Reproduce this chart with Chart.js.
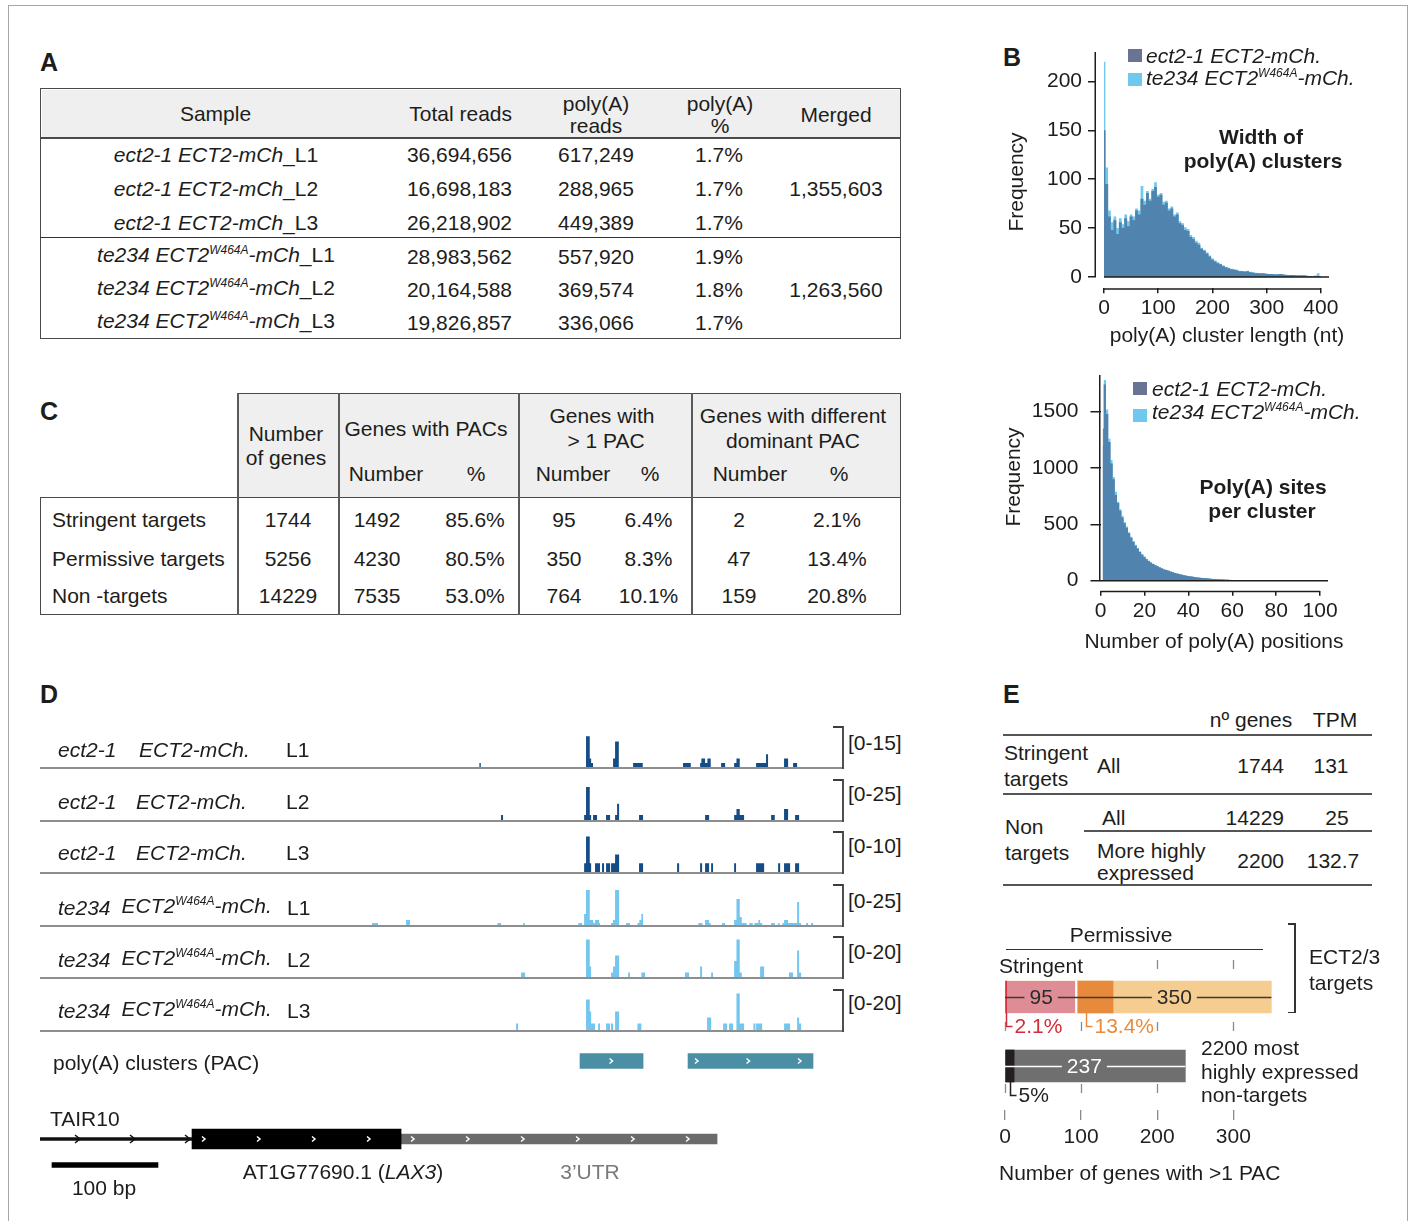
<!DOCTYPE html>
<html lang="en">
<head>
<meta charset="utf-8">
<title>Poly(A) site usage in ECT2 lines</title>
<script src="https://cdn.jsdelivr.net/npm/chart.js"></script>
<style>
  html, body { margin: 0; padding: 0; background: #fff; }
  body { position: relative; width: 1410px; height: 1221px; overflow: hidden;
         font-family: 'Liberation Sans', Arial, Helvetica, sans-serif; color: #1d1d1b; }
  .t { position: absolute; white-space: nowrap; font-size: 21px; line-height: 21px; }
  .b { font-weight: bold; }
  .i { font-style: italic; }
  .w { background: #fff; }
  .sup { font-size: 12px; position: relative; top: -8px; }
  .panel { font-weight: bold; font-size: 25px; line-height: 25px; }
  .ln { position: absolute; background: #4a4a4a; }
  canvas { position: absolute; }
</style>
</head>
<body>
<div style="position:absolute;left:8px;top:5px;width:1400px;height:1300px;border:1px solid #a6a6a6;box-sizing:border-box;"></div>
<script>
// ---------------- A: sequencing libraries ----------------
const libReplicates = ['L1', 'L2', 'L3', 'L1', 'L2', 'L3'];
const totalReads = [36694656, 16698183, 26218902, 28983562, 20164588, 19826857];
const polyAReads = [617249, 288965, 449389, 557920, 369574, 336066];
const polyAPercent = [1.7, 1.7, 1.7, 1.9, 1.8, 1.7];
const mergedReads = [1355603, 1263560];

// ---------------- C: PAC usage per gene set ----------------
const geneSets = ['Stringent targets', 'Permissive targets', 'Non -targets'];
const nGenes = [1744, 5256, 14229];
const genesWithPAC = [1492, 4230, 7535];
const genesWithPACPct = [85.6, 80.5, 53.0];
const genesMultiPAC = [95, 350, 764];
const genesMultiPACPct = [6.4, 8.3, 10.1];
const genesDiffDominant = [2, 47, 159];
const genesDiffDominantPct = [2.1, 13.4, 20.8];

// ---------------- B: cluster width / sites per cluster ----------------
const widthBinNt = 5;
const widthXTicks = [0, 100, 200, 300, 400];
const widthYTicks = [0, 50, 100, 150, 200];
const widthEct2 = [150, 95, 62, 48, 58, 44, 56, 50, 60, 52,
  62, 58, 68, 64, 80, 74, 86, 78, 88, 92,
  82, 84, 74, 76, 68, 70, 62, 64, 55, 53,
  48, 47, 41, 39, 35, 33, 29, 27, 24, 21,
  18, 16, 14, 13, 11, 10, 9, 8, 7.5, 7,
  6, 6, 5.5, 6, 5, 4.5, 4, 4, 3.5, 3.5,
  3, 3, 3, 2.5, 2.5, 3, 2.5, 2, 2, 2,
  2, 1.5, 1.5, 1.5, 1.5, 1, 1, 1, 1, 1,
  1];
const widthTe234 = [220, 112, 68, 56, 62, 50, 60, 54, 64, 57,
  64, 62, 70, 68, 93, 78, 88, 80, 90, 97,
  84, 86, 77, 78, 70, 72, 64, 66, 57, 55,
  51, 49, 43, 41, 37, 35, 30, 28, 25, 22,
  19, 17, 15, 13.5, 12, 10.5, 9.5, 8.5, 8, 7.5,
  6.5, 6, 6, 6.5, 5.5, 5, 4.5, 4, 4, 3.5,
  3.5, 3, 3, 3, 2.5, 3, 2.5, 2.5, 2, 2,
  2, 2, 1.5, 1.5, 1.5, 1.5, 1, 1, 1.5, 4,
  1];
const posXTicks = [0, 20, 40, 60, 80, 100];
const posYTicks = [0, 500, 1000, 1500];
const posEct2 = [1350, 1740, 1480, 1230, 1040, 900, 760, 690, 620, 560,
  510, 470, 420, 380, 345, 310, 285, 255, 230, 210,
  190, 175, 160, 148, 138, 128, 118, 108, 100, 94,
  88, 80, 74, 68, 62, 57, 52, 48, 44, 41,
  38, 35, 32, 29, 27, 25, 23, 21, 19, 17,
  16, 15, 13, 12, 11, 10, 9, 8, 7, 6.5,
  6, 5.5, 5, 5, 4.5, 4, 4, 3.5, 3.5, 3,
  3, 3, 2.5, 2.5, 2.5, 2, 2, 2, 2, 1.5,
  1.5, 1.5, 1.5, 1.5, 1, 1, 1, 1, 1, 1,
  1, 1, 1, 0.5, 0.5, 0.5, 0.5, 0.5, 0.5, 0.5];
const posTe234 = [1200, 1780, 1520, 1260, 1070, 920, 790, 700, 635, 575,
  520, 480, 430, 390, 350, 318, 290, 262, 236, 214,
  194, 178, 163, 150, 140, 130, 120, 110, 102, 95,
  89, 81, 75, 69, 63, 58, 53, 49, 45, 42,
  39, 36, 33, 30, 28, 26, 24, 22, 20, 18,
  16.5, 15, 14, 12.5, 11.5, 10.5, 9.5, 8.5, 7.5, 7,
  6.5, 6, 5.5, 5, 5, 4.5, 4, 4, 3.5, 3.5,
  3, 3, 3, 2.5, 2.5, 2.5, 2, 2, 2, 2,
  1.5, 1.5, 1.5, 1.5, 1.5, 1, 1, 1, 1, 1,
  1, 1, 1, 1, 0.5, 0.5, 0.5, 0.5, 0.5, 0.5];

// ---------------- D: coverage at AT1G77690 (bp from window start) ----------------
const trackSpanBp = 757.5;
const trackRanges = [15, 25, 10, 25, 20, 20];
const covEct2L1 = [[414.5, 415.8, 1.5],
  [515.1, 518.6, 11.5], [518.6, 519.9, 3.2], [519.9, 521.7, 1.5],
  [540.6, 542.5, 3.2], [542.5, 546.0, 9.6],
  [559.5, 568.6, 1.5], [606.6, 613.9, 1.5],
  [622.7, 623.9, 1.5], [623.9, 627.4, 3.2], [627.4, 629.6, 1.5], [629.6, 632.7, 3.2],
  [642.5, 646.3, 1.5], [654.8, 657.0, 1.5], [657.0, 660.1, 3.2],
  [675.5, 684.9, 1.5], [684.9, 686.8, 4.8], [701.9, 705.7, 3.2], [710.4, 714.2, 1.5]];
const covEct2L2 = [[434.9, 436.8, 3.1],
  [513.3, 515.1, 3.1], [515.1, 518.6, 20.6], [518.6, 519.9, 3.1],
  [521.7, 525.5, 3.1], [534.0, 537.8, 3.1],
  [542.5, 544.4, 3.1], [544.4, 546.3, 10.2], [565.1, 568.9, 3.1], [627.4, 631.2, 3.1],
  [654.8, 657.0, 3.1], [657.0, 660.1, 6.9], [660.1, 664.2, 3.1],
  [689.7, 693.1, 3.1], [701.9, 705.7, 6.9], [712.3, 716.1, 3.1]];
const covEct2L3 = [[513.3, 515.1, 2.2], [515.1, 518.6, 8.9], [518.6, 519.9, 2.2],
  [523.6, 528.3, 2.2], [530.2, 532.1, 2.2], [534.0, 537.8, 2.2],
  [538.7, 542.5, 2.2], [542.5, 546.3, 4.4], [565.1, 568.9, 2.2], [601.0, 602.9, 2.2],
  [622.7, 624.6, 2.2], [627.4, 631.2, 2.2], [633.1, 634.9, 2.2], [654.8, 656.6, 2.2],
  [675.5, 683.1, 2.2], [696.3, 698.2, 2.2], [701.9, 707.6, 2.2], [712.3, 716.1, 2.2]];
const covTe234L1 = [[313.2, 318.9, 1.2], [345.3, 349.1, 3.1], [431.5, 434.9, 1.2],
  [455.7, 457.3, 1.2], [507.9, 511.4, 1.2],
  [513.3, 515.1, 6.9], [515.1, 518.6, 21.9], [518.6, 522.0, 3.1], [522.0, 523.6, 1.2],
  [523.6, 527.4, 3.1], [527.4, 528.3, 1.2],
  [538.7, 540.6, 1.2], [540.6, 542.5, 3.1], [542.5, 546.3, 21.9], [552.9, 556.6, 1.2],
  [563.6, 565.4, 1.2], [565.4, 567.3, 3.1], [567.3, 568.9, 6.9],
  [621.1, 624.9, 1.2], [627.4, 631.2, 3.1], [631.2, 632.7, 1.2], [643.4, 646.3, 1.2],
  [654.8, 657.0, 3.1], [657.0, 660.1, 16.2], [660.1, 662.0, 5.0], [662.0, 666.7, 1.2],
  [669.2, 672.4, 1.2], [673.9, 677.7, 1.2], [677.7, 679.3, 3.1], [679.3, 681.2, 1.2],
  [689.7, 693.1, 1.2], [696.3, 697.8, 1.2],
  [700.4, 701.9, 1.2], [701.9, 705.7, 3.1], [705.7, 714.2, 1.2], [714.2, 716.1, 14.4], [716.1, 718.0, 1.2],
  [722.7, 724.6, 1.2], [727.4, 729.3, 1.2]];
const covTe234L2 = [[453.8, 457.6, 2.3],
  [515.1, 518.6, 18.8], [518.6, 519.9, 5.3],
  [538.7, 540.6, 2.3], [540.6, 542.5, 5.3], [542.5, 546.3, 10.8],
  [554.8, 556.6, 2.3], [567.3, 570.8, 2.3], [608.5, 612.3, 2.3], [622.7, 624.6, 5.3],
  [633.1, 634.9, 2.3], [654.8, 657.0, 8.0], [657.0, 660.1, 18.8], [660.1, 662.0, 2.3],
  [679.3, 683.1, 5.3], [706.6, 710.4, 2.3], [714.2, 716.1, 13.3], [716.1, 718.0, 2.3]];
const covTe234L3 = [[449.1, 451.0, 3.2],
  [515.1, 518.6, 15.2], [518.6, 519.9, 9.2], [519.9, 523.6, 3.2],
  [526.5, 528.3, 3.2], [534.0, 537.8, 3.2], [538.7, 540.6, 3.2], [542.5, 546.3, 9.2],
  [563.6, 567.3, 3.2], [629.3, 633.1, 6.2], [644.4, 648.2, 3.2], [650.0, 653.8, 3.2],
  [657.0, 660.1, 18.2], [660.1, 664.2, 3.2], [673.0, 674.9, 3.2], [675.5, 681.2, 3.2],
  [701.9, 707.6, 3.2], [714.2, 716.1, 6.2], [716.1, 718.0, 3.2]];
const pacClusters = [[509.4, 568.9], [611.3, 729.2]];
const geneUpstream = [0, 143.4];
const geneCDS = [143.4, 340.6];
const geneUTR = [340.6, 638.7];
const scaleBarStart = 11.3;
const scaleBarBp = 100;

// ---------------- E: expression-matched comparison ----------------
const eTableGenes = [1744, 14229, 2200];
const eTableTPM = ['131', '25', '132.7'];
const multiPacStringent = 95, diffStringent = 2;
const multiPacPermissive = 350, diffPermissive = 47;
const multiPacHighNonTargets = 237, diffHighNonTargets = 12;
const eXTicks = [0, 100, 200, 300];

// ---------------- colours ----------------
const COL = {
  ect2: '#6b7394', te234: '#6fc9ef', overlap: '#5083ad',
  trackEct2: '#134c86', trackTe234: '#73c6ee', pac: '#4a8fa3', utr: '#6b6b6b',
  pink: '#de8d96', red: '#d3202f', orangeDark: '#e88a3c', orangeLight: '#f6cd90',
  grey: '#6f6f70', black: '#231f20', ink: '#1d1d1b'
};

// ---------------- helpers ----------------
function T(x, y, html, align, cls, style) {
  const d = document.createElement('div');
  d.className = 't' + (cls ? ' ' + cls : '');
  d.innerHTML = html;
  d.style.left = x + 'px';
  d.style.top = y + 'px';
  const tx = align === 'c' ? '-50%' : align === 'r' ? '-100%' : '0';
  d.style.transform = 'translate(' + tx + ',-50%)';
  if (style) d.style.cssText += style;
  document.body.appendChild(d);
  return d;
}
function L(x, y, w, h, color) {
  const d = document.createElement('div');
  d.className = 'ln';
  d.style.cssText += 'left:' + x + 'px;top:' + y + 'px;width:' + w + 'px;height:' + h + 'px;' + (color ? 'background:' + color + ';' : '');
  document.body.appendChild(d);
}
function B(x, y, w, h, style) {
  const d = document.createElement('div');
  d.style.cssText = 'position:absolute;box-sizing:border-box;left:' + x + 'px;top:' + y + 'px;width:' + w + 'px;height:' + h + 'px;' + style;
  document.body.appendChild(d);
}
function makeCanvas(x, y, w, h) {
  const c = document.createElement('canvas');
  c.width = w; c.height = h;
  c.style.left = x + 'px'; c.style.top = y + 'px';
  c.style.width = w + 'px'; c.style.height = h + 'px';
  document.body.appendChild(c);
  return c;
}
const fmt = n => n.toLocaleString('en-US');
const pct = v => v.toFixed(1) + '%';
const ectName = '<span class="i">ect2-1 ECT2-mCh</span>';
const teName = '<span class="i">te234 ECT2<span class="sup">W464A</span>-mCh</span>';

Chart.defaults.font.family = "'Liberation Sans', Arial, sans-serif";
Chart.defaults.font.size = 21;
Chart.defaults.color = COL.ink;

// ---------------- panel letters ----------------
T(40, 62, 'A', 'l', 'panel');
T(1003, 57, 'B', 'l', 'panel');
T(40, 411, 'C', 'l', 'panel');
T(40, 694, 'D', 'l', 'panel');
T(1003, 694, 'E', 'l', 'panel');

// ---------------- table A ----------------
B(40, 88, 861, 251, 'border:1.5px solid #4a4a4a;');
B(41.5, 89.5, 858, 48, 'background:#efefef;');
L(40, 137, 861, 1.5);
L(40, 237, 861, 1.2, '#333');
T(215.5, 113, 'Sample', 'c');
T(512, 113, 'Total reads', 'r');
T(596, 103, 'poly(A)', 'c'); T(596, 125, 'reads', 'c');
T(720, 103, 'poly(A)', 'c'); T(720, 125, '%', 'c');
T(836, 114, 'Merged', 'c');
const rowYA = [154, 188, 221.5, 255.5, 288.5, 322];
rowYA.forEach((y, i) => {
  T(216, y, (i < 3 ? ectName : teName) + '_' + libReplicates[i], 'c');
  T(512, y, fmt(totalReads[i]), 'r');
  T(596, y, fmt(polyAReads[i]), 'c');
  T(719, y, pct(polyAPercent[i]), 'c');
});
T(836, rowYA[1], fmt(mergedReads[0]), 'c');
T(836, rowYA[4], fmt(mergedReads[1]), 'c');

// ---------------- table C ----------------
B(237, 393, 664, 105, 'background:#efefef;border-top:1.5px solid #4a4a4a;border-right:1.5px solid #4a4a4a;');
B(40, 497, 861, 118, 'border:1.5px solid #4a4a4a;');
[237, 338, 518, 691].forEach(x => L(x, 393, 1.5, 222, '#5a5a5a'));
T(286, 433, 'Number', 'c'); T(286, 457, 'of genes', 'c');
T(426, 428, 'Genes with PACs', 'c');
T(386, 473, 'Number', 'c'); T(476, 473, '%', 'c');
T(602, 415, 'Genes with', 'c'); T(606, 440, '&gt; 1 PAC', 'c');
T(573, 473, 'Number', 'c'); T(650, 473, '%', 'c');
T(793, 415, 'Genes with different', 'c'); T(793, 440, 'dominant PAC', 'c');
T(750, 473, 'Number', 'c'); T(839, 473, '%', 'c');
[519, 557.5, 595].forEach((y, i) => {
  T(52, y, geneSets[i], 'l');
  T(288, y, String(nGenes[i]), 'c');
  T(377, y, String(genesWithPAC[i]), 'c');
  T(475, y, pct(genesWithPACPct[i]), 'c');
  T(564, y, String(genesMultiPAC[i]), 'c');
  T(648.5, y, pct(genesMultiPACPct[i]), 'c');
  T(739, y, String(genesDiffDominant[i]), 'c');
  T(837, y, pct(genesDiffDominantPct[i]), 'c');
});

// ---------------- B: histograms ----------------
const histAxes = {
  id: 'histAxes',
  afterDatasetsDraw(chart) {
    const { ctx, chartArea: ca, scales: { x, y } } = chart;
    const xt = chart.options.xTickValues;
    ctx.save();
    ctx.strokeStyle = COL.ink;
    ctx.lineWidth = 1.5;
    ctx.beginPath();
    ctx.moveTo(x.getPixelForValue(0), y.getPixelForValue(0));
    ctx.lineTo(ca.right, y.getPixelForValue(0));
    ctx.stroke();
    ctx.beginPath();
    ctx.moveTo(x.getPixelForValue(xt[0]), ca.bottom + 0.75);
    ctx.lineTo(x.getPixelForValue(xt[xt.length - 1]), ca.bottom + 0.75);
    ctx.stroke();
    ctx.beginPath();
    ctx.moveTo(ca.left - 0.75, y.getPixelForValue(0));
    ctx.lineTo(ca.left - 0.75, ca.top);
    ctx.stroke();
    ctx.restore();
  }
};

function histogram(canvas, cfg) {
  const overlap = cfg.a.map((v, i) => Math.min(v, cfg.b[i]));
  const pts = arr => arr.map((v, i) => ({ x: cfg.xs[i], y: v }));
  const ds = (label, arr, color) => ({
    label, data: pts(arr), backgroundColor: color, borderColor: 'rgba(0,0,0,0)', borderWidth: 0,
    pointRadius: 0, stepped: 'middle', fill: 'origin'
  });
  const tickCfg = (len, pad) => ({
    grid: { display: true, drawOnChartArea: false, drawTicks: true, tickLength: len, color: COL.ink, lineWidth: 1.5 },
    border: { display: false },
    ticks: { padding: pad, autoSkip: false, maxRotation: 0, color: COL.ink, font: { size: 21 }, callback: v => String(v) }
  });
  return new Chart(canvas, {
    type: 'line',
    data: { datasets: [ds('both', overlap, COL.overlap), ds('te234 ECT2 W464A-mCh.', cfg.b, COL.te234), ds('ect2-1 ECT2-mCh.', cfg.a, COL.ect2)] },
    options: {
      responsive: false, animation: false, events: [],
      xTickValues: cfg.xTicks,
      layout: { padding: cfg.padding },
      plugins: { legend: { display: false }, tooltip: { enabled: false } },
      scales: {
        x: Object.assign({
          type: 'linear', min: cfg.xMin, max: cfg.xMax,
          afterBuildTicks: s => { s.ticks = cfg.xTicks.map(v => ({ value: v })); },
          afterFit: s => { s.height = cfg.xAxisHeight; }
        }, tickCfg(cfg.xTickLen, cfg.xTickPad)),
        y: Object.assign({
          type: 'linear', min: cfg.yMin, max: cfg.yMax,
          afterBuildTicks: s => { s.ticks = cfg.yTicks.map(v => ({ value: v })); },
          afterFit: s => { s.width = cfg.yAxisWidth; }
        }, tickCfg(cfg.yTickLen, cfg.yTickPad))
      }
    },
    plugins: [histAxes]
  });
}

histogram(makeCanvas(1000, 30, 365, 320), {
  xs: widthEct2.map((_, i) => i * widthBinNt), a: widthEct2, b: widthTe234,
  xMin: -14.8, xMax: 415, yMin: -11.5, yMax: 230,
  xTicks: widthXTicks, yTicks: widthYTicks,
  yAxisWidth: 96, xAxisHeight: 61.7,
  padding: { top: 22, right: 36, left: 0, bottom: 0 },
  yTickLen: 8, yTickPad: 6, xTickLen: 5, xTickPad: 2
});
histogram(makeCanvas(1000, 345, 365, 285), {
  xs: posEct2.map((_, i) => i + 1), a: posEct2, b: posTe234,
  xMin: 0, xMax: 103.6, yMin: -88.7, yMax: 1825,
  xTicks: posXTicks, yTicks: posYTicks,
  yAxisWidth: 100.5, xAxisHeight: 39.3,
  padding: { top: 30, right: 37, left: 0, bottom: 0 },
  yTickLen: 10, yTickPad: 12, xTickLen: 5, xTickPad: 3
});

// B texts and legends
T(1015, 182, 'Frequency', 'c', '', 'transform:translate(-50%,-50%) rotate(-90deg);');
T(1261, 136, 'Width of', 'c', 'b');
T(1263, 160, 'poly(A) clusters', 'c', 'b');
T(1227, 334, 'poly(A) cluster length (nt)', 'c');
B(1128, 49, 14, 13, 'background:' + COL.ect2 + ';');
B(1128, 73, 14, 13, 'background:' + COL.te234 + ';');
T(1146, 55, 'ect2-1 ECT2-mCh.', 'l', 'i');
T(1146, 79, 'te234 ECT2<span class="sup">W464A</span>-mCh.', 'l', 'i');

T(1012, 477, 'Frequency', 'c', '', 'transform:translate(-50%,-50%) rotate(-90deg);');
T(1263, 486, 'Poly(A) sites', 'c', 'b');
T(1262, 510, 'per cluster', 'c', 'b');
T(1214, 640, 'Number of poly(A) positions', 'c');
B(1133, 382, 14, 13, 'background:' + COL.ect2 + ';');
B(1133, 409, 14, 13, 'background:' + COL.te234 + ';');
T(1152, 388, 'ect2-1 ECT2-mCh.', 'l', 'i');
T(1152, 413, 'te234 ECT2<span class="sup">W464A</span>-mCh.', 'l', 'i');

// ---------------- D: coverage tracks ----------------
const trackFrame = {
  id: 'trackFrame',
  afterDatasetsDraw(chart) {
    const { ctx, chartArea: { left, right, top, bottom } } = chart;
    ctx.save();
    ctx.strokeStyle = '#8e8e8e';
    ctx.lineWidth = 2;
    ctx.beginPath(); ctx.moveTo(left, bottom + 1); ctx.lineTo(right, bottom + 1); ctx.stroke();
    ctx.strokeStyle = '#3d3d3d';
    ctx.lineWidth = 1.8;
    ctx.beginPath(); ctx.moveTo(right - 10, top); ctx.lineTo(right, top); ctx.lineTo(right, bottom + 2); ctx.stroke();
    ctx.restore();
  }
};
function stepPoints(segs) {
  const p = [{ x: 0, y: 0 }];
  segs.forEach(([s, e, v]) => { p.push({ x: s, y: v }); p.push({ x: e, y: 0 }); });
  p.push({ x: trackSpanBp, y: 0 });
  return p;
}
const tracks = [
  { segs: covEct2L1, color: COL.trackEct2 }, { segs: covEct2L2, color: COL.trackEct2 },
  { segs: covEct2L3, color: COL.trackEct2 }, { segs: covTe234L1, color: COL.trackTe234 },
  { segs: covTe234L2, color: COL.trackTe234 }, { segs: covTe234L3, color: COL.trackTe234 }
];
tracks.forEach((tr, i) => {
  const top = 727 + i * 52.5;
  new Chart(makeCanvas(40, top - 3, 806, 46), {
    type: 'line',
    data: { datasets: [{ data: stepPoints(tr.segs), stepped: true, fill: 'origin', backgroundColor: tr.color,
      borderColor: 'rgba(0,0,0,0)', borderWidth: 0, pointRadius: 0 }] },
    options: {
      responsive: false, animation: false, events: [],
      layout: { padding: { top: 3, bottom: 3, left: 0, right: 3 } },
      plugins: { legend: { display: false }, tooltip: { enabled: false } },
      scales: { x: { type: 'linear', min: 0, max: trackSpanBp, display: false },
                y: { type: 'linear', min: 0, max: trackRanges[i], display: false } }
    },
    plugins: [trackFrame]
  });
});
const rowYD = [749, 800.5, 852, 907, 958.5, 1009.5];
rowYD.forEach((y, i) => {
  if (i < 3) {
    T(58, y, 'ect2-1', 'l', 'i');
    T(i === 0 ? 139 : 136, y, 'ECT2-mCh.', 'l', 'i');
    T(286, y, libReplicates[i], 'l');
  } else {
    T(58, y, 'te234', 'l', 'i');
    T(121.5, y, 'ECT2<span class="sup">W464A</span>-mCh.', 'l', 'i');
    T(287, y, libReplicates[i], 'l');
  }
  T(848, y - 7.5, '[0-' + trackRanges[i] + ']', 'l');
});

// gene model, PACs and scale bar on the same bp axis
const strandMarks = {
  id: 'strandMarks',
  afterDatasetsDraw(chart) {
    const ctx = chart.ctx;
    chart.data.datasets.forEach((ds, di) => {
      const c = ds.chevrons;
      if (!c) return;
      chart.getDatasetMeta(di).data.forEach(bar => {
        const x0 = Math.min(bar.base, bar.x), x1 = Math.max(bar.base, bar.x), cy = bar.y;
        let xs = [];
        if (x1 - x0 < 2 * c.step) xs = [(x0 + x1) / 2];
        else for (let p = x0 + c.offset; p <= x1 - 3; p += c.step) xs.push(p);
        ctx.save();
        ctx.strokeStyle = c.color;
        ctx.lineWidth = 1.5;
        xs.forEach(px => {
          ctx.beginPath();
          ctx.moveTo(px - c.w, cy - c.h);
          ctx.lineTo(px + 1, cy);
          ctx.lineTo(px - c.w, cy + c.h);
          ctx.stroke();
        });
        ctx.restore();
      });
    });
  }
};
const whiteChevron = { color: '#ffffff', offset: 12, step: 55, w: 2, h: 2.5 };
const pacChevron = { color: '#ffffff', offset: 9, step: 51.5, w: 2, h: 2.5 };
new Chart(makeCanvas(40, 1045, 806, 136), {
  type: 'bar',
  data: {
    labels: ['PAC', 'gapA', 'gapB', 'TAIR10', 'scale'],
    datasets: [
      { data: pacClusters.map(r => ({ x: r, y: 'PAC' })), backgroundColor: COL.pac, barThickness: 15, chevrons: pacChevron },
      { data: [{ x: geneUpstream, y: 'TAIR10' }], backgroundColor: '#111', barThickness: 3,
        chevrons: { color: '#111', offset: 39, step: 55, w: 4, h: 4 } },
      { data: [{ x: geneCDS, y: 'TAIR10' }], backgroundColor: '#000', barThickness: 20, chevrons: whiteChevron },
      { data: [{ x: geneUTR, y: 'TAIR10' }], backgroundColor: COL.utr, barThickness: 10, chevrons: whiteChevron },
      { data: [{ x: [scaleBarStart, scaleBarStart + scaleBarBp], y: 'scale' }], backgroundColor: '#000', barThickness: 5 }
    ]
  },
  options: {
    indexAxis: 'y', responsive: false, animation: false, events: [],
    datasets: { bar: { grouped: false } },
    layout: { padding: { top: 3, bottom: 3, left: 0, right: 3 } },
    plugins: { legend: { display: false }, tooltip: { enabled: false } },
    scales: { x: { type: 'linear', min: 0, max: trackSpanBp, display: false },
              y: { type: 'category', display: false } }
  },
  plugins: [strandMarks]
});
T(53, 1062, 'poly(A) clusters (PAC)', 'l');
T(50, 1118, 'TAIR10', 'l');
T(104, 1187, '100 bp', 'c');
T(343, 1171, 'AT1G77690.1 (<i>LAX3</i>)', 'c');
T(590, 1171, '3’UTR', 'c', '', 'color:#7a7a7a;');

// ---------------- E: table ----------------
T(1251, 719, 'nº genes', 'c'); T(1335, 719, 'TPM', 'c');
L(1003, 734, 369, 1.5, '#555');
T(1004, 752, 'Stringent', 'l'); T(1004, 778, 'targets', 'l');
T(1097, 765, 'All', 'l'); T(1284, 765, String(eTableGenes[0]), 'r'); T(1331, 765, eTableTPM[0], 'c');
L(1003, 793, 369, 1.5, '#555');
T(1102, 817, 'All', 'l'); T(1284, 817, String(eTableGenes[1]), 'r'); T(1337, 817, eTableTPM[1], 'c');
T(1005, 826, 'Non', 'l'); T(1005, 852, 'targets', 'l');
L(1084, 830, 288, 1.5, '#555');
T(1097, 850, 'More highly', 'l'); T(1097, 872, 'expressed', 'l');
T(1284, 860, String(eTableGenes[2]), 'r'); T(1333, 860, eTableTPM[2], 'c');
L(1003, 884, 369, 1.5, '#555');

// ---------------- E: bar chart ----------------
const eBarThickness = 32;
const eAnnotations = {
  id: 'eAnnotations',
  beforeDatasetsDraw(chart) {
    const { ctx, chartArea: ca, scales: { x } } = chart;
    ctx.save();
    ctx.strokeStyle = '#8a8a8a';
    ctx.lineWidth = 1.3;
    ctx.setLineDash([9, 53]);
    eXTicks.forEach(v => {
      const px = Math.round(x.getPixelForValue(v)) + 0.5;
      ctx.beginPath(); ctx.moveTo(px, ca.top + 5); ctx.lineTo(px, ca.bottom - 13); ctx.stroke();
    });
    ctx.restore();
  },
  afterDatasetsDraw(chart) {
    const { ctx, scales: { x, y } } = chart;
    ctx.save();
    ctx.font = "21px 'Liberation Sans', Arial, sans-serif";
    ctx.textBaseline = 'middle';
    ctx.textAlign = 'center';
    const rowLine = (row, from, to, labels, lineColor, textColor) => {
      const yc = Math.round(y.getPixelForValue(row)) + 0.5;
      let cur = x.getPixelForValue(from);
      ctx.strokeStyle = lineColor;
      ctx.lineWidth = 1.5;
      labels.forEach(lb => {
        const lx = x.getPixelForValue(lb.at);
        const half = ctx.measureText(lb.text).width / 2 + 5;
        ctx.beginPath(); ctx.moveTo(cur, yc); ctx.lineTo(lx - half, yc); ctx.stroke();
        ctx.fillStyle = textColor;
        ctx.fillText(lb.text, lx, yc + 1);
        cur = lx + half;
      });
      ctx.beginPath(); ctx.moveTo(cur, yc); ctx.lineTo(x.getPixelForValue(to), yc); ctx.stroke();
    };
    rowLine(0, 0, multiPacPermissive, [
      { at: multiPacStringent / 2, text: String(multiPacStringent) },
      { at: (multiPacStringent + multiPacPermissive) / 2, text: String(multiPacPermissive) }
    ], '#3a3a3a', '#2b2b2b');
    rowLine(1, 0, multiPacHighNonTargets, [
      { at: multiPacHighNonTargets * 0.44, text: String(multiPacHighNonTargets) }
    ], '#ffffff', '#ffffff');

    const bracket = (start, width, row, text, color) => {
      const bx = Math.round(x.getPixelForValue(start + Math.min(width / 2, 12))) + 0.5;
      const yc = y.getPixelForValue(row);
      const yTop = yc + eBarThickness / 2, yLab = yc + 29.5;
      ctx.strokeStyle = color; ctx.lineWidth = 1.5;
      ctx.beginPath(); ctx.moveTo(bx, yTop); ctx.lineTo(bx, yLab); ctx.lineTo(bx + 6, yLab); ctx.stroke();
      ctx.fillStyle = color; ctx.textAlign = 'left';
      ctx.fillText(text, bx + 8, yLab + 1);
    };
    const share = (d, n, digits) => (d / n * 100).toFixed(digits) + '%';
    bracket(0, diffStringent, 0, share(diffStringent, multiPacStringent, 1), '#d42b3a');
    bracket(multiPacStringent, diffPermissive, 0, share(diffPermissive, multiPacPermissive, 1), '#ec8a3c');
    bracket(0, diffHighNonTargets, 1, share(diffHighNonTargets, multiPacHighNonTargets, 0), COL.black);
    ctx.restore();
  }
};
new Chart(makeCanvas(990, 940, 300, 210), {
  type: 'bar',
  data: {
    datasets: [
      { data: [{ x: [0, diffStringent], y: 0 }], backgroundColor: COL.red },
      { data: [{ x: [0, multiPacStringent], y: 0 }], backgroundColor: COL.pink, borderColor: '#ffffff',
        borderWidth: { top: 0, right: 2.5, bottom: 0, left: 0 }, borderSkipped: false },
      { data: [{ x: [multiPacStringent, multiPacStringent + diffPermissive], y: 0 }], backgroundColor: COL.orangeDark },
      { data: [{ x: [0, multiPacPermissive], y: 0 }], backgroundColor: COL.orangeLight },
      { data: [{ x: [0, diffHighNonTargets], y: 1 }], backgroundColor: COL.black },
      { data: [{ x: [0, multiPacHighNonTargets], y: 1 }], backgroundColor: COL.grey }
    ]
  },
  options: {
    indexAxis: 'y', responsive: false, animation: false, events: [],
    datasets: { bar: { grouped: false, barThickness: eBarThickness } },
    layout: { padding: { top: 15, left: 15, right: 0, bottom: 0 } },
    plugins: { legend: { display: false }, tooltip: { enabled: false } },
    scales: {
      x: {
        type: 'linear', min: 0, max: 374.5,
        afterBuildTicks: s => { s.ticks = eXTicks.map(v => ({ value: v })); },
        afterFit: s => { s.height = 40; },
        grid: { display: true, drawOnChartArea: false, drawTicks: true, tickLength: 10, color: '#8a8a8a', lineWidth: 1.3 },
        border: { display: false },
        ticks: { padding: 5, autoSkip: false, maxRotation: 0, color: COL.black, font: { size: 21 }, callback: v => String(v) }
      },
      y: { type: 'linear', reverse: true, offset: false, grid: { offset: false },
           min: -0.6087, max: 1.6377, display: false }
    }
  },
  plugins: [eAnnotations]
});
T(1121, 934, 'Permissive', 'c');
L(1006, 948.5, 257, 1.3, '#333');
T(999, 965, 'Stringent', 'l', 'w');
L(1294, 923, 1.5, 90, '#333');
L(1288, 923, 7, 1.5, '#333');
L(1288, 1011.5, 7, 1.5, '#333');
T(1309, 956, 'ECT2/3', 'l');
T(1309, 982, 'targets', 'l');
T(1201, 1047, '2200 most', 'l', 'w');
T(1201, 1071, 'highly expressed', 'l', 'w');
T(1201, 1094, 'non-targets', 'l', 'w');
T(999, 1172, 'Number of genes with &gt;1 PAC', 'l');
</script>
</body>
</html>
